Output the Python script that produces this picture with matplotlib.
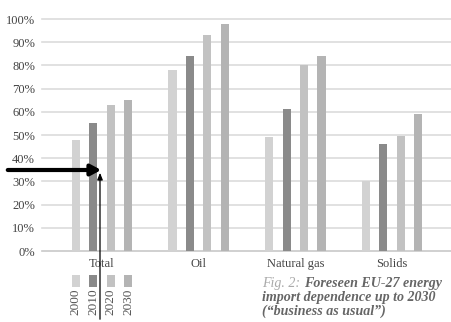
import numpy as np
import matplotlib.pyplot as plt
from matplotlib.patches import FancyArrowPatch

# EU-27 import dependence by fuel, share of demand in %
categories = ['Total', 'Oil', 'Natural gas', 'Solids']
years = ['2000', '2010', '2020', '2030']
dep_2000 = [48, 78, 49, 30]
dep_2010 = [55, 84, 61, 46]
dep_2020 = [63, 93, 80, 49.5]
dep_2030 = [65, 98, 84, 59]
series = [dep_2000, dep_2010, dep_2020, dep_2030]
colors = ['#d2d2d2', '#8a8a8a', '#c2c2c2', '#b4b4b4']

plt.rcParams['font.family'] = ['Liberation Serif', 'DejaVu Serif']

fig = plt.figure(figsize=(4.52, 3.22), dpi=100)
W, H = 452, 322
ax = fig.add_axes([42 / W, (H - 251) / H, 410 / W, 232 / H])

x = np.arange(len(categories))
step = 0.18
width = 0.085
for i, (vals, col) in enumerate(zip(series, colors)):
    ax.bar(x + (i - 1.5) * step, vals, width, color=col, zorder=3)

ax.set_xlim(-0.62, 3.62)
ax.set_ylim(0, 100)
ax.set_yticks(range(0, 101, 10))
ax.set_yticklabels([f'{v}%' for v in range(0, 101, 10)], fontsize=9, color='#444444')
for v in range(0, 101, 10):
    ax.axhline(v, color='#dcdcdc' if v else '#c8c8c8', lw=1.2, zorder=1, clip_on=False)
ax.set_xticks(x)
ax.set_xticklabels(categories, fontsize=9, color='#444444')
ax.tick_params(length=0, pad=5)
for s in ax.spines.values():
    s.set_visible(False)

# legend: swatches under the first group with rotated year labels
for i, (yr, col) in enumerate(zip(years, colors)):
    xp = (i - 1.5) * step
    ax.bar(xp, 5.2, width, bottom=-15.5, color=col, clip_on=False, zorder=3)
    ax.text(xp, -16.3, yr, rotation=90, ha='center', va='top', fontsize=9.5,
            color='#555555')

# caption
cap_fs = 10.1
lead = fig.text(262 / W, 1 - 284 / H, 'Fig. 2:', fontsize=cap_fs, style='italic',
                color='#aaaaaa', va='center')
fig.canvas.draw()
lead_w = lead.get_window_extent().width
fig.text((262 + lead_w + 4) / W, 1 - 284 / H, 'Foreseen EU-27 energy', fontsize=cap_fs,
         style='italic', weight='bold', color='#666666', va='center')
fig.text(262 / W, 1 - 298 / H, 'import dependence up to 2030', fontsize=cap_fs,
         style='italic', weight='bold', color='#666666', va='center')
fig.text(262 / W, 1 - 311 / H, '(\u201cbusiness as usual\u201d)', fontsize=cap_fs,
         style='italic', weight='bold', color='#666666', va='center')

# pointer arrows
fig.patches.append(FancyArrowPatch(
    (5, H - 170), (104, H - 170), transform=None,
    arrowstyle='-|>,head_length=6,head_width=3.2', lw=3, color='black'))
fig.patches.append(FancyArrowPatch(
    (100, 0), (100, H - 170), transform=None,
    arrowstyle='-|>,head_length=4,head_width=1.6', lw=0.9, color='black'))

fig.savefig('out.png', dpi=100)
